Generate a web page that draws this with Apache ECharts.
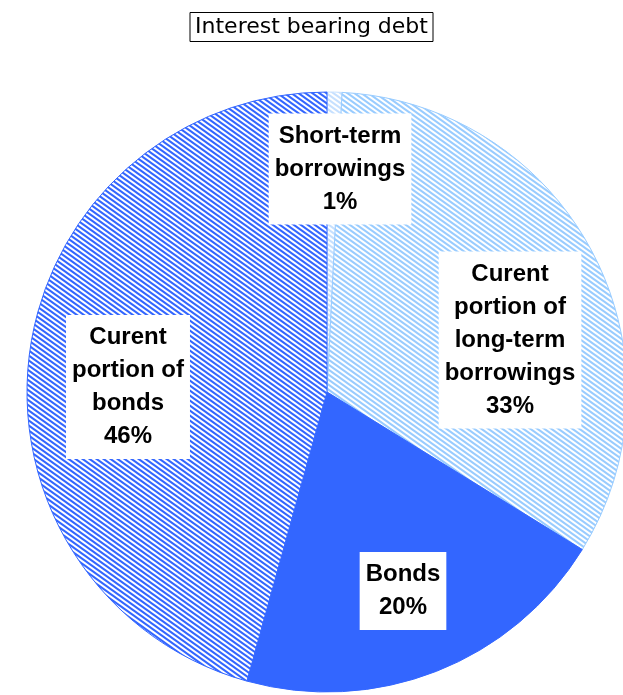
<!DOCTYPE html>
<html>
<head>
<meta charset="utf-8">
<script src="https://cdn.jsdelivr.net/npm/echarts@6/dist/echarts.min.js"></script>
<style>
html,body{margin:0;padding:0;background:#fff;}
#chart{width:623px;height:695px;}
</style>
</head>
<body>
<div id="chart"></div>
<script>
const categories = [
  'Short-term\nborrowings',
  'Curent\nportion of\nlong-term\nborrowings',
  'Bonds',
  'Curent\nportion of\nbonds'
];
const values = [0.8, 33, 20.5, 45.7];
const titleText = 'Interest bearing debt';

// label centre positions (layout only)
const labelPos = [[340, 169], [510, 340], [403, 591], [128, 387]];

function stripe(color, bg) {
  const w = 7, h = 5;
  const c = document.createElement('canvas');
  c.width = w; c.height = h;
  const ctx = c.getContext('2d');
  ctx.fillStyle = bg; ctx.fillRect(0, 0, w, h);
  ctx.strokeStyle = color; ctx.lineWidth = 2.1;
  for (const o of [-w, 0, w]) {
    ctx.beginPath(); ctx.moveTo(o - w, -h); ctx.lineTo(o + 2 * w, 2 * h); ctx.stroke();
  }
  return c;
}
const fills = [
  {image: stripe('#c6e0ff', '#ffffff'), repeat: 'repeat'},
  {image: stripe('#99ccff', '#ffffff'), repeat: 'repeat'},
  '#3366ff',
  {image: stripe('#3366ff', '#ffffff'), repeat: 'repeat'}
];
const borders = ['#c6e0ff', '#99ccff', '#3366ff', '#3366ff'];

const chart = echarts.init(document.getElementById('chart'));
chart.setOption({
  animation: false,
  title: {
    text: titleText,
    left: 'center',
    top: 12,
    padding: [4, 5],
    borderColor: '#000',
    borderWidth: 1,
    textStyle: {fontFamily: 'DejaVu Sans', fontWeight: 'normal', fontSize: 22, color: '#000'}
  },
  series: [{
    type: 'pie',
    center: [327, 392],
    radius: 300,
    startAngle: 90,
    clockwise: true,
    percentPrecision: 0,
    data: categories.map((n, i) => ({
      name: n, value: values[i],
      itemStyle: {color: fills[i], borderColor: borders[i], borderWidth: 1}
    })),
    label: {
      show: true,
      position: 'inside',
      formatter: '{b}\n{d}%',
      fontFamily: 'Liberation Sans',
      fontWeight: 'bold',
      fontSize: 24,
      lineHeight: 33,
      color: '#000',
      backgroundColor: '#fff',
      padding: [6, 6]
    },
    labelLine: {show: false},
    labelLayout: function (p) {
      const q = labelPos[p.dataIndex];
      return {x: q[0], y: q[1], align: 'center', verticalAlign: 'middle'};
    },
    emphasis: {disabled: true}
  }]
});
</script>
</body>
</html>
